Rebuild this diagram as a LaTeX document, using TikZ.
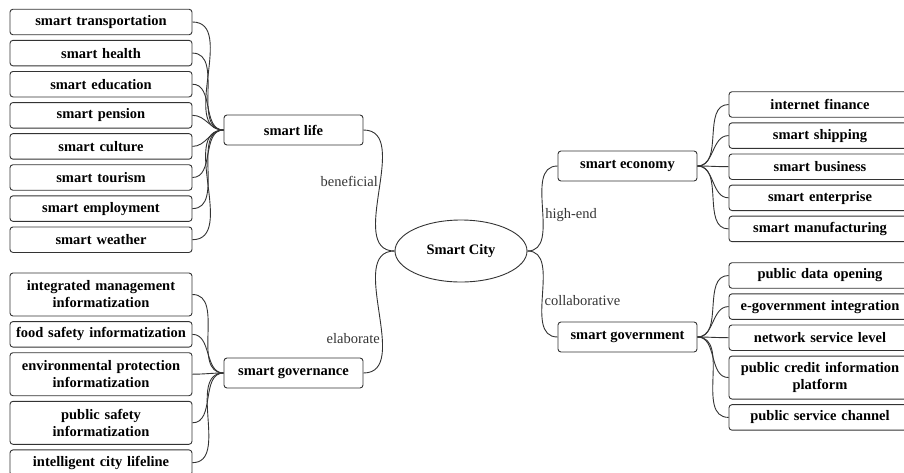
\documentclass[tikz,border=0pt]{standalone}
\usepackage{fontspec}
\setmainfont{Liberation Serif}
\usetikzlibrary{positioning,shapes.geometric}

\begin{document}
\begin{tikzpicture}[x=1pt, y=-1pt,
  leafnode/.style={rectangle, rounded corners=3pt, draw=black!80, line width=0.9pt, text width=172pt, align=center, minimum height=25.5pt, inner xsep=5pt, inner ysep=6pt, font=\fontsize{14.5}{17}\selectfont\bfseries},
  tallnode/.style={leafnode, minimum height=43pt},
  branchnode/.style={rectangle, rounded corners=3pt, draw=black!80, line width=0.9pt, minimum width=139pt, minimum height=30pt, font=\fontsize{14.5}{17}\selectfont\bfseries},
  citynode/.style={ellipse, draw=black!80, line width=0.9pt, minimum width=132pt, minimum height=62pt, font=\fontsize{14.5}{17}\selectfont\bfseries},
  link/.style={draw=black!80, line width=0.9pt},
  linklabel/.style={font=\fontsize{14.5}{17}\selectfont, text=black!80, inner sep=2pt}]

        \useasboundingbox (0,0) rectangle (904,472);

        \node[citynode] (city) at (461,251) {Smart City};

        \node[branchnode] (life) at (293.5,130) {smart life};
        \node[branchnode] (gov) at (293.5,373) {smart governance};
        \node[branchnode] (econ) at (627.5,166) {smart economy};
        \node[branchnode] (govt) at (627.5,337) {smart government};

        % smart life
        \node[leafnode] (l1) at (101,22) {smart transportation};
        \node[leafnode] (l2) [below=4.7pt of l1] {smart health};
        \node[leafnode] (l3) [below=4.7pt of l2] {smart education};
        \node[leafnode] (l4) [below=4.7pt of l3] {smart pension};
        \node[leafnode] (l5) [below=4.7pt of l4] {smart culture};
        \node[leafnode] (l6) [below=4.7pt of l5] {smart tourism};
        \node[leafnode] (l7) [below=4.7pt of l6] {smart employment};
        \node[leafnode] (l8) [below=4.7pt of l7] {smart weather};

        % smart governance
        \node[tallnode] (g1) at (101,294.5) {integrated management\\ informatization};
        \node[leafnode] (g2) [below=4.7pt of g1] {food safety informatization};
        \node[tallnode] (g3) [below=4.7pt of g2] {environmental protection\\ informatization};
        \node[tallnode] (g4) [below=4.7pt of g3] {public safety\\ informatization};
        \node[leafnode] (g5) [below=4.7pt of g4] {intelligent city lifeline};

        % smart economy
        \node[leafnode] (e1) at (820,104.5) {internet finance};
        \node[leafnode] (e2) [below=4.7pt of e1] {smart shipping};
        \node[leafnode] (e3) [below=4.7pt of e2] {smart business};
        \node[leafnode] (e4) [below=4.7pt of e3] {smart enterprise};
        \node[leafnode] (e5) [below=4.7pt of e4] {smart manufacturing};

        % smart government
        \node[leafnode] (v1) at (820,275.5) {public data opening};
        \node[leafnode] (v2) [below=4.7pt of v1] {e-government integration};
        \node[leafnode] (v3) [below=4.7pt of v2] {network service level};
        \node[tallnode] (v4) [below=4.7pt of v3] {public credit information\\ platform};
        \node[leafnode] (v5) [below=4.7pt of v4] {public service channel};

        \draw[link] (life.east) to[out=0,in=180] node[linklabel, left, pos=0.45] {beneficial} (city.west);
        \draw[link] (gov.east) to[out=0,in=180] node[linklabel, left, pos=0.35] {elaborate} (city.west);
        \draw[link] (city.east) to[out=0,in=180] node[linklabel, right, pos=0.45] {high-end} (econ.west);
        \draw[link] (city.east) to[out=0,in=180] node[linklabel, right, pos=0.55] {collaborative} (govt.west);

        \foreach \n in {l1,l2,l3,l4,l5,l6,l7,l8}
          \draw[link] (life.west) to[out=180,in=0] (\n.east);
        \foreach \n in {g1,g2,g3,g4,g5}
          \draw[link] (gov.west) to[out=180,in=0] (\n.east);
        \foreach \n in {e1,e2,e3,e4,e5}
          \draw[link] (econ.east) to[out=0,in=180] (\n.west);
        \foreach \n in {v1,v2,v3,v4,v5}
          \draw[link] (govt.east) to[out=0,in=180] (\n.west);

\end{tikzpicture}
\end{document}
